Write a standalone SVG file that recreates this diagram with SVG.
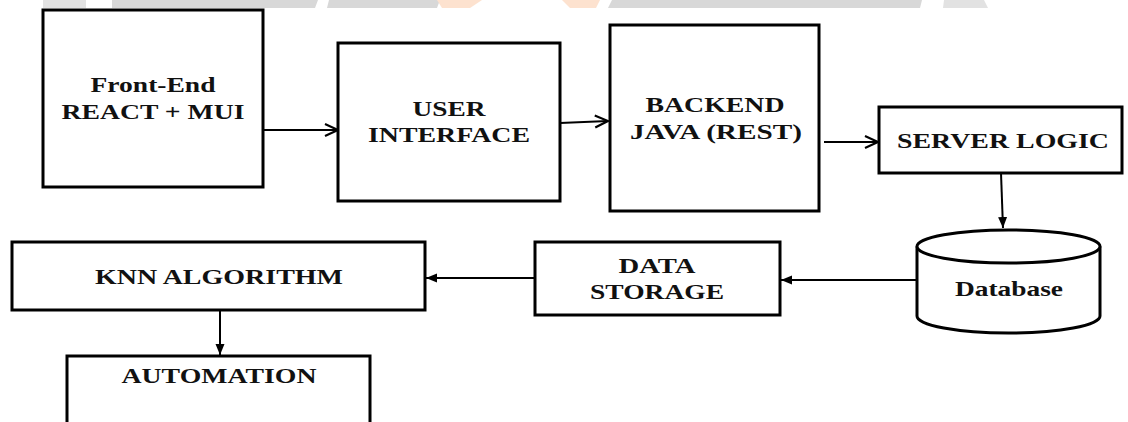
<svg xmlns="http://www.w3.org/2000/svg" width="1128" height="422" viewBox="0 0 1128 422">
  <style>
    .box { fill: #ffffff; stroke: #000000; stroke-width: 3; }
    .lbl { font-family: "Liberation Serif", "Times New Roman", serif; font-weight: bold; font-size: 21px; fill: #111111; text-anchor: middle; }
    .con { fill: none; stroke: #000000; stroke-width: 2; }
    .open { marker-end: url(#chev); }
    .solid { marker-end: url(#tri); }
    .wm { fill: #d8d8d8; }
    .wm2 { fill: #e2e2e2; }
    .wmo { fill: #fde2cf; }
  </style>
  <defs>
    <marker id="chev" markerUnits="userSpaceOnUse" markerWidth="16" markerHeight="16" refX="14" refY="7" orient="auto" viewBox="0 0 16 14">
      <path d="M1,1 L14,7 L1,13" fill="none" stroke="#000" stroke-width="2.2"/>
    </marker>
    <marker id="tri" markerUnits="userSpaceOnUse" markerWidth="12" markerHeight="10" refX="11" refY="4.5" orient="auto" viewBox="0 0 12 9">
      <path d="M0,0 L11,4.5 L0,9 Z" fill="#000"/>
    </marker>
  </defs>

  <rect width="1128" height="422" fill="#ffffff"/>

  <g id="watermark">
    <rect class="wm2" x="43" y="0" width="43" height="8"/>
    <polygon class="wm" points="112,0 318,0 315,8 112,8"/>
    <polygon class="wm" points="329,0 440,0 437,8 327,8"/>
    <polygon class="wmo" points="437,0 482,0 470,8 442,8"/>
    <polygon class="wmo" points="562,0 600,0 596,8 570,8"/>
    <polygon class="wm" points="612,0 922,0 920,8 608,8"/>
    <polygon class="wm2" points="944,0 984,0 988,8 943,8"/>
  </g>

  <g id="connectors">
    <line class="con open" x1="263" y1="130" x2="338" y2="130"/>
    <line class="con open" x1="560" y1="123" x2="608" y2="121"/>
    <line class="con open" x1="824" y1="142" x2="878" y2="142"/>
    <line class="con solid" x1="1001" y1="173" x2="1003" y2="228"/>
    <line class="con solid" x1="917" y1="280" x2="781" y2="280"/>
    <line class="con solid" x1="535" y1="278" x2="426" y2="278"/>
    <line class="con solid" x1="220" y1="310" x2="220" y2="355"/>
  </g>

  <g id="frontend">
    <rect class="box" x="43" y="10" width="220" height="177"/>
    <text class="lbl" x="153" y="92" textLength="125" lengthAdjust="spacingAndGlyphs">Front-End</text>
    <text class="lbl" x="153" y="119" textLength="183" lengthAdjust="spacingAndGlyphs">REACT + MUI</text>
  </g>

  <g id="ui">
    <rect class="box" x="338" y="43" width="222" height="158"/>
    <text class="lbl" x="449" y="116" textLength="73" lengthAdjust="spacingAndGlyphs">USER</text>
    <text class="lbl" x="449" y="142" textLength="162" lengthAdjust="spacingAndGlyphs">INTERFACE</text>
  </g>

  <g id="backend">
    <rect class="box" x="610" y="25" width="209" height="186"/>
    <text class="lbl" x="715" y="112" textLength="139" lengthAdjust="spacingAndGlyphs">BACKEND</text>
    <text class="lbl" x="716" y="139" textLength="172" lengthAdjust="spacingAndGlyphs">JAVA (REST)</text>
  </g>

  <g id="server">
    <rect class="box" x="879" y="107" width="243" height="66"/>
    <text class="lbl" x="1003" y="148" style="font-size:22px" textLength="212" lengthAdjust="spacingAndGlyphs">SERVER LOGIC</text>
  </g>

  <g id="database">
    <path d="M917,246.5 L917,316 A91.5,17 0 0 0 1100,316 L1100,246.5" fill="#ffffff" stroke="#000" stroke-width="3"/>
    <ellipse cx="1008.5" cy="246.5" rx="91.5" ry="16.5" fill="#ffffff" stroke="#000" stroke-width="3"/>
    <text class="lbl" x="1009" y="296" style="font-size:22px" textLength="108" lengthAdjust="spacingAndGlyphs">Database</text>
  </g>

  <g id="datastorage">
    <rect class="box" x="535" y="242" width="245" height="73"/>
    <text class="lbl" x="657" y="273" textLength="77" lengthAdjust="spacingAndGlyphs">DATA</text>
    <text class="lbl" x="657" y="299" textLength="134" lengthAdjust="spacingAndGlyphs">STORAGE</text>
  </g>

  <g id="knn">
    <rect class="box" x="12" y="242" width="413" height="68"/>
    <text class="lbl" x="219" y="284" style="font-size:22px" textLength="248" lengthAdjust="spacingAndGlyphs">KNN ALGORITHM</text>
  </g>

  <g id="automation">
    <rect class="box" x="67" y="356" width="303" height="80"/>
    <text class="lbl" x="219" y="383" textLength="195" lengthAdjust="spacingAndGlyphs">AUTOMATION</text>
  </g>
</svg>
